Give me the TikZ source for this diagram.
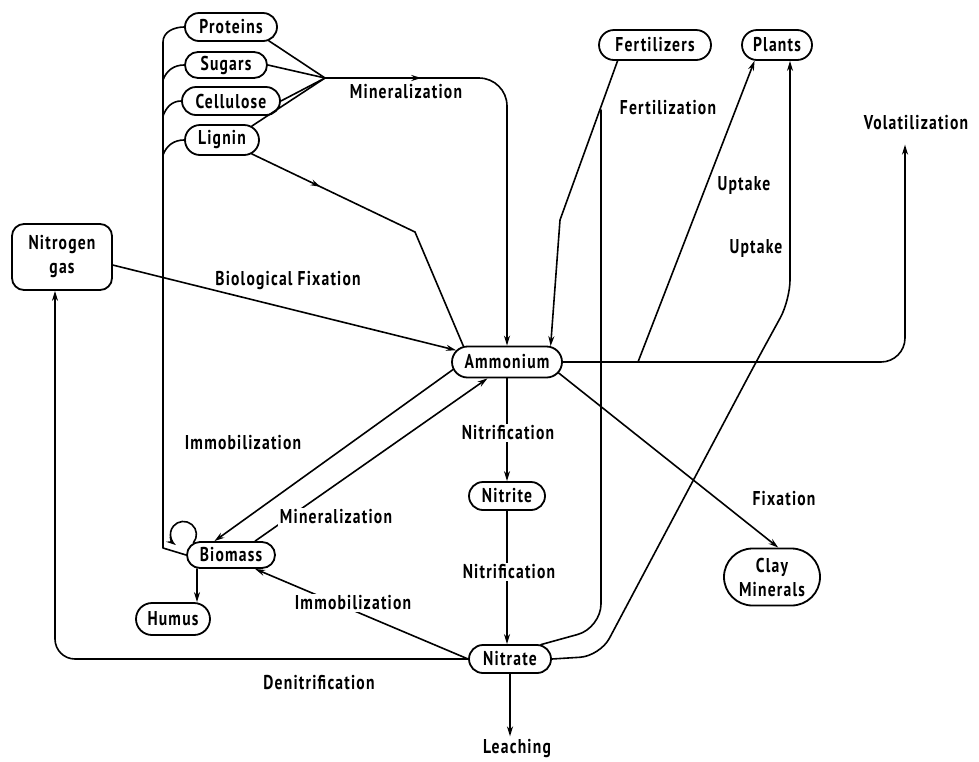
\documentclass[tikz,border=0pt]{standalone}
\usepackage{fontspec}
\setmainfont{PT Sans}[FakeStretch=0.78,LetterSpace=6]
\usetikzlibrary{arrows.meta,shapes.misc,decorations.markings}

\tikzset{
  box/.style={draw,rounded rectangle,line width=0.9pt,inner sep=0pt,minimum height=14pt,font=\bfseries},
  lbl/.style={font=\bfseries,inner sep=1pt},
  cut/.style={lbl,fill=white},
  link/.style={line width=0.8pt},
  flow/.style={link,-{Stealth[length=5pt,width=3pt]}},
  midarrow/.style={postaction={decorate},decoration={markings,
    mark=at position #1 with {\arrow{Stealth[length=5pt,width=3pt]}}}},
}

\begin{document}
\begin{tikzpicture}[x=0.5pt,y=-0.5pt,line cap=round,line join=round]
\useasboundingbox (0,0) rectangle (979,761);

\node[box,minimum width=46pt] (prot) at (231,27) {Proteins};
\node[box,minimum width=41pt,minimum height=13pt] (sug) at (226,65) {Sugars};
\node[box,minimum width=49pt] (cell) at (231,101) {Cellulose};
\node[box,minimum width=37pt,minimum height=15pt] (lig) at (222,140) {Lignin};
\node[box,rectangle,rounded corners=6pt,minimum width=50pt,minimum height=33pt,align=center] (ngas) at (62,257) {Nitrogen\\gas};
\node[box,minimum width=55pt,minimum height=15.5pt] (amm) at (507,362) {Ammonium};
\node[box,minimum width=56pt,minimum height=15pt] (fert) at (655,45) {Fertilizers};
\node[box,minimum width=35pt,minimum height=15pt] (plants) at (777,45) {Plants};
\node[box,minimum width=38pt] (nitrite) at (507,496) {Nitrite};
\node[box,minimum width=44pt,minimum height=13pt] (bio) at (231,555) {Biomass};
\node[box,minimum width=37pt,minimum height=16pt] (humus) at (173,619) {Humus};
\node[box,minimum width=48pt,minimum height=28.5pt,align=center] (clay) at (772,577) {Clay\\Minerals};
\node[box,minimum width=41pt] (nitrate) at (510,659) {Nitrate};

\node[lbl] (lbVol) at (916,123) {Volatilization};
\node[lbl] (lbLeach) at (517,748) {Leaching};

\coordinate (hub) at (325,78);
\coordinate (ligbend) at (415,232);
\coordinate (fbend) at (560,220);
\coordinate (fsplit) at (601,110);
\coordinate (upsplit) at (638,362);
\coordinate (volcorner) at (905,362);
\coordinate (upbend) at (790,300);
\coordinate (dncorner) at (55,659);

% organic pools on the left bus
\draw[link] (prot.west) to[out=180,in=90] (163,42) -- (163,548) -- (bio.west);
\draw[link] (sug.west) to[out=180,in=70] (163,80);
\draw[link] (cell.west) to[out=180,in=70] (163,116);
\draw[link] (lig.west) to[out=180,in=70] (163,155);
\draw[flow] (bio.162) arc[start angle=40,end angle=-235,radius=13];

% mineralization to ammonium
\draw[link] (prot.-20) -- (hub);
\draw[link] (sug.east) -- (hub);
\draw[link] (cell.east) -- (hub);
\draw[link] (lig.25) -- (hub);
\draw[flow,midarrow=0.22,rounded corners=14pt] (hub) -- (amm.north |- hub) -- (amm.north);
\draw[link,midarrow=0.25] (lig.-25) -- (ligbend) -- (amm.160);

\draw[flow] (ngas.-9) -- (amm.167);
\draw[flow] (amm.188) -- (bio.140);
\draw[flow] (bio.30) -- (amm.220);
\draw[flow] (nitrate.west) -- (bio.-30);
\draw[flow] ([xshift=-17pt]bio.south) -- ([xshift=-17pt]bio.south |- humus.north);

\draw[flow] (amm.south) -- (nitrite.north);
\draw[flow] (nitrite.south) -- (nitrite.south |- nitrate.north);
\draw[flow] (nitrate.south) -- (nitrate.south |- lbLeach.north);
\draw[flow,rounded corners=10pt] (nitrate.west) -- (dncorner) -- (dncorner |- ngas.south);

% fertilizers, plants, volatilization
\draw[flow] (fert.203) -- (fbend) -- (amm.20);
\draw[link,rounded corners=12pt] (fsplit) -- (601,628) -- (nitrate.25);
\draw[flow,rounded corners=12pt,shorten >=6pt] (amm.east) -- (volcorner) -- (volcorner |- lbVol.south);
\draw[flow] (upsplit) -- (plants.215);
\draw[flow,rounded corners=10pt] (nitrate.east) -- (600,656) -- (755,364) -- (upbend) -- (upbend |- plants.south);
\draw[flow] (amm.-12) -- (clay.78);

\node[lbl] (lbMinTop) at (406,92) {Mineralization};
\node[lbl] (lbFert) at (668,108) {Fertilization};
\node[lbl] (lbUp1) at (744,185) {Uptake};
\node[lbl] (lbUp2) at (756,248) {Uptake};
\node[lbl] (lbBio) at (288,281) {Biological Fixation};
\node[lbl] (lbImm1) at (243,443) {Immobilization};
\node[cut] (lbNit1) at (508,433) {Nitrification};
\node[cut] (lbMin2) at (336,517) {Mineralization};
\node[cut] (lbNit2) at (509,572) {Nitrification};
\node[cut] (lbImm2) at (353,603) {Immobilization};
\node[lbl] (lbFix) at (784,499) {Fixation};
\node[lbl] (lbDen) at (319,683) {Denitrification};
\end{tikzpicture}
\end{document}
